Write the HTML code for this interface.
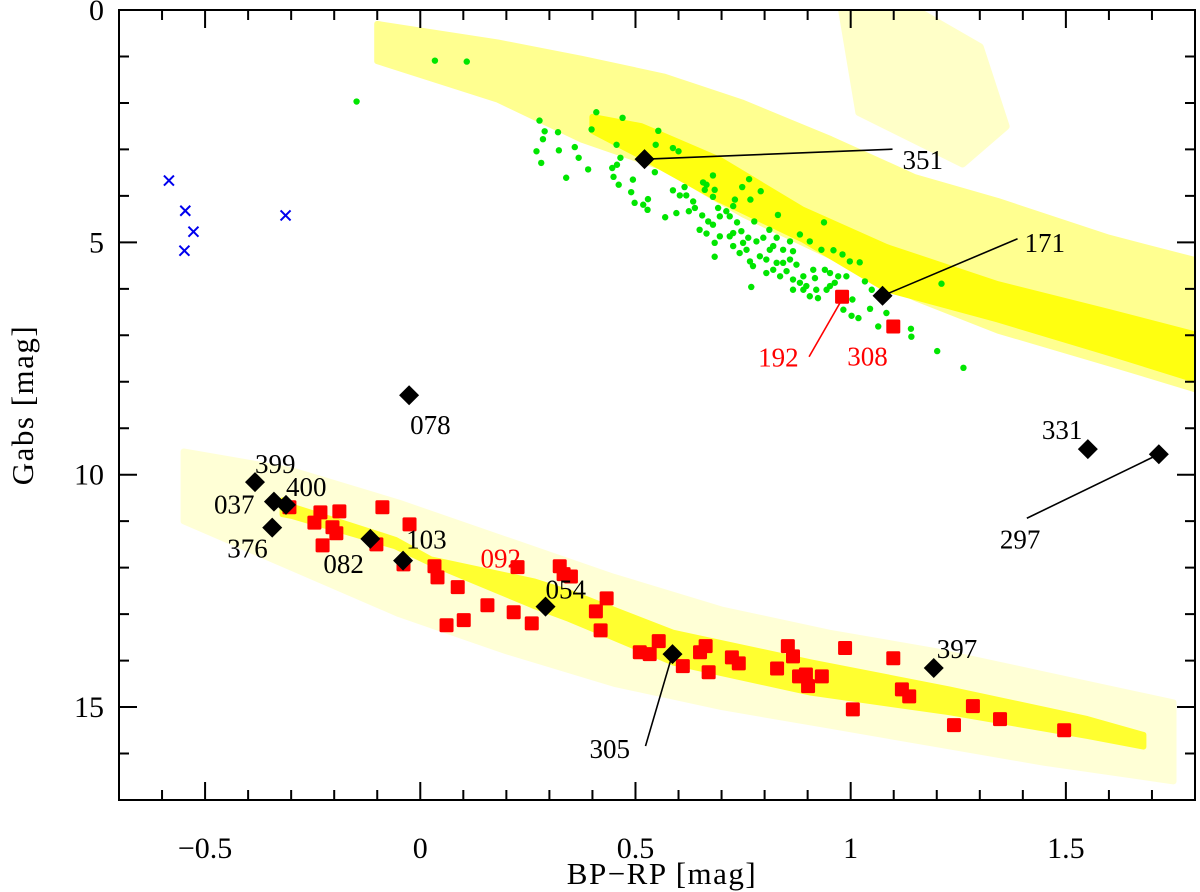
<!DOCTYPE html>
<html><head><meta charset="utf-8"><style>
html,body{margin:0;padding:0;background:#fff;}
svg{display:block;font-family:"Liberation Serif",serif;}
</style></head><body>
<svg id="chart" width="1200" height="892" viewBox="0 0 1200 892" xmlns="http://www.w3.org/2000/svg">
<defs><clipPath id="plotclip"><rect x="119" y="10" width="1076" height="790"/></clipPath></defs>
<g id="bands" clip-path="url(#plotclip)"></g>
<g id="marks" clip-path="url(#plotclip)"></g>
<g id="annot"></g>
<g id="axes"></g>
</svg>
<script>
// ---- axis domains ----
const xDomain = [-0.7, 1.8];
const yDomain = [0, 17];
const xMajorTicks = [-0.5, 0, 0.5, 1, 1.5];
const xTickLabels = ["\u22120.5", "0", "0.5", "1", "1.5"];
const yMajorTicks = [0, 5, 10, 15];
const yTickLabels = ["0", "5", "10", "15"];

// ---- field star density regions ----
const msCoreX = [0.40, 0.514, 0.695, 0.889, 1.083, 1.342, 1.601, 1.85];
const msCoreTop = [2.3, 2.5, 3.22, 4.3, 5.1, 5.9, 6.5, 7.1];
const msCoreBottom = [2.6, 3.15, 4.08, 4.94, 6.01, 6.66, 7.38, 8.1];
const msMidX = [-0.10, 0.18, 0.375, 0.566, 0.75, 0.954, 1.15, 1.342, 1.6, 1.85];
const msMidTop = [0.3, 0.7, 1.05, 1.43, 2.0, 2.78, 3.6, 4.11, 4.9, 5.5];
const msMidBottom = [1.1, 1.93, 2.79, 3.4, 4.4, 5.3, 6.2, 6.9, 7.6, 8.3];
// sparse upper-right clump (closed outline)
const clumpPolyX = [0.98, 1.15, 1.30, 1.36, 1.26, 1.02];
const clumpPolyY = [0.0, 0.0, 0.8, 2.5, 3.3, 2.2];
const wdCoreX = [-0.32, -0.297, -0.058, 0.024, 0.266, 0.345, 0.587, 0.908, 1.229, 1.55, 1.68];
const wdCoreTop = [10.55, 10.69, 11.4, 11.82, 12.3, 12.53, 13.40, 14.04, 14.62, 15.26, 15.6];
const wdCoreBottom = [10.85, 10.89, 11.54, 11.9, 12.83, 13.1, 14.04, 14.69, 15.11, 15.62, 15.85];
const wdHaloX = [-0.55, -0.3, -0.05, 0.2, 0.45, 0.7, 0.95, 1.2, 1.45, 1.75];
const wdHaloTop = [9.5, 9.9, 10.6, 11.4, 12.2, 12.9, 13.4, 13.8, 14.3, 14.9];
const wdHaloBottom = [11.0, 12.0, 13.0, 13.8, 14.5, 15.0, 15.4, 15.8, 16.2, 16.6];

// ---- green cluster members ----
const greenX = [0.277,0.289,0.285,0.320,0.270,0.281,0.322,0.359,0.368,0.339,0.390,0.409,0.398,0.470,0.456,0.465,0.446,0.457,0.449,0.461,0.494,0.490,0.498,0.518,0.529,0.528,0.569,0.595,0.553,0.547,0.587,0.600,0.545,0.587,0.603,0.614,0.618,0.634,0.638,0.624,0.655,0.657,0.665,0.680,0.684,0.661,0.680,0.649,0.665,0.684,0.684,0.669,0.680,0.696,0.692,0.711,0.727,0.719,0.731,0.748,0.764,0.791,0.767,0.736,0.776,0.831,0.746,0.762,0.719,0.727,0.742,0.758,0.766,0.781,0.797,0.811,0.828,0.789,0.804,0.812,0.843,0.859,0.882,0.905,0.866,0.828,0.843,0.836,0.851,0.866,0.882,0.890,0.905,0.917,0.932,0.960,0.981,0.940,0.952,0.944,0.963,0.971,0.998,1.021,0.990,0.924,1.004,0.983,1.002,1.018,1.045,1.033,1.049,1.064,1.083,1.140,1.141,1.201,1.262,0.938,1.211,0.769,0.859,0.874,0.890,0.913,0.804,0.820,0.773,0.750,0.727,0.696,0.820,0.866,0.897,0.920,0.952,-0.148,0.034,0.108];
const greenY = [2.38,2.61,2.78,2.63,3.04,3.29,3.02,2.95,3.18,3.61,3.43,2.20,2.57,2.32,2.90,3.18,3.40,3.33,3.59,3.76,3.65,3.92,4.15,4.19,4.07,4.30,4.46,4.37,2.60,2.90,2.97,3.04,3.49,3.88,3.99,3.81,3.99,4.12,4.26,4.33,4.42,3.71,3.76,3.56,3.87,3.87,4.02,4.73,4.81,5.01,5.31,4.55,4.62,4.44,4.26,4.33,4.22,4.44,4.08,3.81,3.64,3.90,4.08,4.57,4.55,4.41,4.76,4.90,4.87,5.08,5.23,5.16,5.41,4.98,4.90,4.73,4.90,5.30,5.37,5.16,5.16,4.98,4.83,4.98,5.19,5.44,5.44,5.73,5.62,5.80,5.87,6.02,6.16,5.77,5.16,5.17,5.26,5.59,5.66,6.02,5.87,5.73,5.41,5.43,5.73,6.20,6.23,6.45,6.58,6.63,6.43,5.84,6.02,6.81,6.52,6.86,7.03,7.34,7.70,4.57,5.89,5.96,5.37,5.48,5.73,5.59,5.66,5.59,5.51,5.01,4.80,4.87,5.08,6.02,5.94,6.02,5.94,1.97,1.09,1.11];

// ---- blue crosses ----
const blueX = [-0.584, -0.546, -0.527, -0.548, -0.313];
const blueY = [3.67, 4.32, 4.77, 5.18, 4.42];

// ---- red squares ----
const redX = [-0.304,-0.232,-0.188,-0.246,-0.204,-0.195,-0.227,-0.088,-0.025,-0.102,-0.039,0.033,0.040,0.087,0.156,0.217,0.259,0.061,0.101,0.226,0.324,0.350,0.333,0.433,0.408,0.419,0.510,0.533,0.554,0.610,0.650,0.663,0.670,0.724,0.740,0.829,0.854,0.866,0.880,0.901,0.896,0.933,0.987,1.005,1.099,1.119,1.136,1.240,1.284,1.347,1.496,0.980,1.099];
const redY = [10.70,10.81,10.79,11.03,11.13,11.26,11.52,10.70,11.07,11.50,11.93,11.97,12.21,12.42,12.81,12.96,13.20,13.24,13.13,11.99,11.97,12.19,12.14,12.66,12.94,13.35,13.82,13.86,13.58,14.12,13.82,13.69,14.25,13.93,14.06,14.17,13.69,13.91,14.34,14.55,14.30,14.34,13.73,15.05,13.95,14.62,14.77,15.39,14.98,15.26,15.50,6.17,6.81];

// ---- black diamonds (labelled) ----
const blackIds = ["351","171","078","331","297","399","037","400","376","082","103","054","305","397"];
const blackX = [0.521,1.074,-0.026,1.551,1.716,-0.384,-0.340,-0.312,-0.344,-0.116,-0.040,0.291,0.586,1.193];
const blackY = [3.21,6.15,8.29,9.45,9.56,10.16,10.58,10.65,11.14,11.38,11.85,12.84,13.86,14.16];
const labelPos = {
 "351":[258,10,true,248,-10], "171":[142,-44,true,135,-57], "078":[1,39], "331":[-46,-10],
 "297":[-159,94,true,-132,64], "399":[0,-9], "037":[-60,12], "400":[0,-9], "376":[-45,30],
 "082":[-47,34], "103":[3,-12], "054":[0,-8], "305":[-83,104,true,-27,92], "397":[3,-10]
};

const L = 119, R = 1195, T = 10, B = 800;
function X(v){ return L + (v - xDomain[0]) / (xDomain[1] - xDomain[0]) * (R - L); }
function Y(v){ return T + (v - yDomain[0]) / (yDomain[1] - yDomain[0]) * (B - T); }
const NS = "http://www.w3.org/2000/svg";
function mk(tag, attrs, parent){
  const e = document.createElementNS(NS, tag);
  for (const k in attrs) e.setAttribute(k, attrs[k]);
  parent.appendChild(e); return e;
}
const gB = document.getElementById('bands'), gM = document.getElementById('marks'),
      gA = document.getElementById('annot'), gX = document.getElementById('axes');

function band(xs, top, bot, fill, name){
  let pts = [];
  for (let i=0;i<xs.length;i++) pts.push(X(xs[i]).toFixed(1)+','+Y(top[i]).toFixed(1));
  for (let i=xs.length-1;i>=0;i--) pts.push(X(xs[i]).toFixed(1)+','+Y(bot[i]).toFixed(1));
  const p = mk('polygon', {points: pts.join(' '), fill: fill, stroke: fill, 'stroke-width': 6, 'stroke-linejoin':'round'}, gB);
  
  
}
band(wdHaloX, wdHaloTop, wdHaloBottom, '#ffffd6', 'lower-sequence-halo');
{
  let pts = [];
  for (let i=0;i<clumpPolyX.length;i++) pts.push(X(clumpPolyX[i]).toFixed(1)+','+Y(clumpPolyY[i]).toFixed(1));
  const p = mk('polygon', {points: pts.join(' '), fill: '#ffffc8', stroke: '#ffffc8', 'stroke-width': 8, 'stroke-linejoin':'round'}, gB);
  
  
}
band(msMidX, msMidTop, msMidBottom, '#ffff90', 'main-sequence-spread');
band(msCoreX, msCoreTop, msCoreBottom, '#ffff10', 'main-sequence-core');
band(wdCoreX, wdCoreTop, wdCoreBottom, '#ffff30', 'lower-sequence-core');

for (let i=0;i<greenX.length;i++){
  const c = mk('circle', {cx: X(greenX[i]), cy: Y(greenY[i]), r: 3.2, fill: '#00e600'}, gM);
  
  
}
for (let i=0;i<blueX.length;i++){
  const cx = X(blueX[i]), cy = Y(blueY[i]), s = 5;
  const p = mk('path', {d:`M${cx-s},${cy-s}L${cx+s},${cy+s}M${cx-s},${cy+s}L${cx+s},${cy-s}`, stroke:'#0000ee', 'stroke-width':2, fill:'none'}, gM);
  
  
}
for (let i=0;i<redX.length;i++){
  const r = mk('rect', {x: X(redX[i])-7, y: Y(redY[i])-7, width: 14, height: 14, rx: 1.5, fill: '#ff0000'}, gM);
  
  
}
for (let i=0;i<blackX.length;i++){
  const cx = X(blackX[i]), cy = Y(blackY[i]), s = 10;
  const d = mk('polygon', {points:`${cx},${cy-s} ${cx+s},${cy} ${cx},${cy+s} ${cx-s},${cy}`, fill:'#000'}, gM);
  
  
  const lp = labelPos[blackIds[i]];
  if (lp[2]){
    const ln = mk('line', {x1: cx, y1: cy, x2: cx+lp[3], y2: cy+lp[4], stroke:'#000', 'stroke-width':1.6}, gA);
    
    
  }
  const t = mk('text', {x: cx+lp[0], y: cy+lp[1], 'font-size': 27, fill:'#000'}, gA);
  t.textContent = blackIds[i];
  
  
}
const redLabels = [["192", 0.980, 6.17, -84, 70], ["308", 1.099, 6.81, -46, 39], ["092", 0.140, 11.80, 0, 0]];
for (const rl of redLabels){
  const cx = X(rl[1]), cy = Y(rl[2]);
  if (rl[0] === "192"){
    const ln = mk('line', {x1: cx-2, y1: cy+6, x2: cx-33, y2: cy+60, stroke:'#ff0000', 'stroke-width':1.6}, gA);
    
    
  }
  const t = mk('text', {x: cx+rl[3], y: cy+rl[4]+ (rl[0]==="092"?9:0), 'font-size': 27, fill:'#ff0000'}, gA);
  t.textContent = rl[0];
  
  
}

// ---- axes ----
const frame = mk('rect', {x:L, y:T, width:R-L, height:B-T, fill:'none', stroke:'#000', 'stroke-width':2}, gX);


let tk = '';
for (let i=-6;i<=17;i++){
  const v = i/10, x = X(v), major = (i % 5 === 0), len = major ? 18 : 10;
  tk += `M${x},${B}v${-len}M${x},${T}v${len}`;
}
for (let v=1; v<=16; v++){
  const y = Y(v), major = (v % 5 === 0), len = major ? 18 : 10;
  tk += `M${L},${y}h${len}M${R},${y}h${-len}`;
}
const ticks = mk('path', {d: tk, stroke:'#000', 'stroke-width':2, fill:'none'}, gX);


for (let i=0;i<xMajorTicks.length;i++){
  const t = mk('text', {x: X(xMajorTicks[i]), y: 858, 'font-size': 30, 'text-anchor':'middle', fill:'#000'}, gX);
  t.textContent = xTickLabels[i];
  
  
}
for (let i=0;i<yMajorTicks.length;i++){
  const t = mk('text', {x: 104, y: Y(yMajorTicks[i]) + 10, 'font-size': 30, 'text-anchor':'end', fill:'#000'}, gX);
  t.textContent = yTickLabels[i];
  
  
}
const xt = mk('text', {x: 662, y: 884, 'font-size': 31, 'letter-spacing': 1.5, 'text-anchor':'middle', fill:'#000'}, gX);
xt.textContent = 'BP\u2212RP  [mag]';


const yt = mk('text', {x: 0, y: 0, 'font-size': 31, 'letter-spacing': 1.5, 'text-anchor':'middle', fill:'#000', transform:'translate(33,405) rotate(-90)'}, gX);
yt.textContent = 'Gabs  [mag]';


</script>
</body></html>
